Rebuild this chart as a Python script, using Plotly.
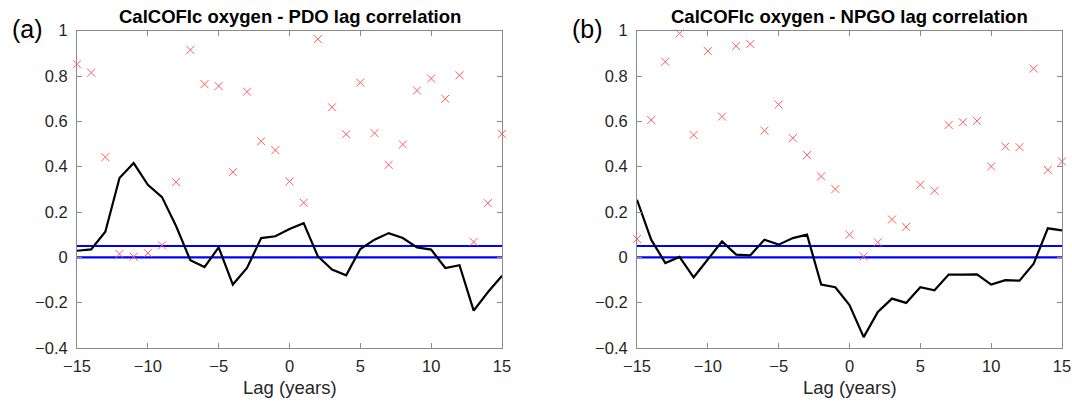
import plotly.graph_objects as go

lags = list(range(-15, 16))

pdo_corr = [0.029, 0.035, 0.113, 0.350, 0.416, 0.320, 0.266, 0.137, -0.013, -0.043,
            0.044, -0.120, -0.047, 0.085, 0.093, 0.125, 0.151, 0.005, -0.054, -0.079,
            0.037, 0.078, 0.107, 0.085, 0.044, 0.034, -0.047, -0.035, -0.235, -0.154, -0.081]
pdo_p = [0.852, 0.815, 0.442, 0.015, 0.003, 0.019, 0.053, 0.332, 0.915, 0.764,
         0.756, 0.376, 0.731, 0.512, 0.473, 0.335, 0.241, 0.963, 0.662, 0.543,
         0.771, 0.548, 0.408, 0.498, 0.736, 0.789, 0.700, 0.803, 0.068, 0.239, 0.545]

npgo_corr = [0.254, 0.078, -0.025, 0.002, -0.088, -0.010, 0.070, 0.012, 0.009, 0.078,
             0.056, 0.085, 0.100, -0.120, -0.132, -0.211, -0.352, -0.241, -0.182, -0.201,
             -0.132, -0.145, -0.076, -0.076, -0.075, -0.120, -0.101, -0.103, -0.028, 0.128, 0.119]
npgo_p = [0.081, 0.606, 0.863, 0.988, 0.540, 0.910, 0.621, 0.932, 0.941, 0.559,
          0.674, 0.526, 0.451, 0.357, 0.301, 0.100, 0.004, 0.066, 0.167, 0.134,
          0.320, 0.294, 0.584, 0.596, 0.602, 0.401, 0.489, 0.486, 0.833, 0.386, 0.423]

ref_levels = [0.0, 0.05]
titles = ["CalCOFIc oxygen - PDO lag correlation", "CalCOFIc oxygen - NPGO lag correlation"]
panel_labels = ["(a)", "(b)"]
xticks = [-15, -10, -5, 0, 5, 10, 15]
yticks = [-0.4, -0.2, 0, 0.2, 0.4, 0.6, 0.8, 1]
xlabel = "Lag (years)"

FONT = "Liberation Sans, Arial, Helvetica, sans-serif"
W, H = 1072, 403
x_domains = [[77 / W, 502 / W], [637 / W, 1062 / W]]
y_domain = [(H - 348) / H, (H - 30.7) / H]

fig = go.Figure()
datasets = [(pdo_corr, pdo_p), (npgo_corr, npgo_p)]
for i, (corr, p) in enumerate(datasets):
    xa = "x" if i == 0 else "x2"
    ya = "y" if i == 0 else "y2"
    for lvl in ref_levels:
        fig.add_trace(go.Scatter(x=[lags[0], lags[-1]], y=[lvl, lvl], mode="lines",
                                 line=dict(color="#0000ff", width=2.2),
                                 xaxis=xa, yaxis=ya, showlegend=False, hoverinfo="skip"))
    fig.add_trace(go.Scatter(x=lags, y=p, mode="markers",
                             marker=dict(symbol="x-thin", size=8,
                                         line=dict(color="#ff5a5a", width=1)),
                             xaxis=xa, yaxis=ya, showlegend=False, cliponaxis=False))
    fig.add_trace(go.Scatter(x=lags, y=corr, mode="lines",
                             line=dict(color="black", width=2.2),
                             xaxis=xa, yaxis=ya, showlegend=False))

axis_common = dict(showgrid=False, zeroline=False, showline=True, linecolor="#8a8a8a",
                   linewidth=1, mirror="ticks", ticks="inside", ticklen=5,
                   tickcolor="#8a8a8a", automargin=False,
                   tickfont=dict(family=FONT, size=16.5, color="#262626"))

for i in range(2):
    sfx = "" if i == 0 else "2"
    fig.update_layout(**{
        "xaxis" + sfx: dict(axis_common, domain=x_domains[i], range=[-15, 15],
                            tickvals=xticks, anchor="y" + sfx, ticklabelstandoff=3),
        "yaxis" + sfx: dict(axis_common, domain=y_domain, range=[-0.4, 1],
                            tickvals=yticks, anchor="x" + sfx, ticklabelstandoff=5),
    })
    cx = (x_domains[i][0] + x_domains[i][1]) / 2
    fig.add_annotation(text="<b>" + titles[i] + "</b>", x=cx, y=(H - 16) / H,
                       xref="paper", yref="paper", showarrow=False, xanchor="center",
                       yanchor="middle", font=dict(family=FONT, size=18.5, color="black"))
    fig.add_annotation(text=xlabel, x=cx, y=(H - 387) / H,
                       xref="paper", yref="paper", showarrow=False, xanchor="center",
                       yanchor="middle", font=dict(family=FONT, size=18.5, color="#262626"))
    fig.add_annotation(text=panel_labels[i], x=(10 if i == 0 else 570) / W, y=(H - 29) / H,
                       xref="paper", yref="paper", showarrow=False, xanchor="left",
                       yanchor="middle", font=dict(family=FONT, size=25, color="black"))

fig.update_layout(width=W, height=H, margin=dict(l=0, r=0, t=0, b=0),
                  paper_bgcolor="white", plot_bgcolor="white",
                  font=dict(family=FONT))
fig.write_html("out.html")
